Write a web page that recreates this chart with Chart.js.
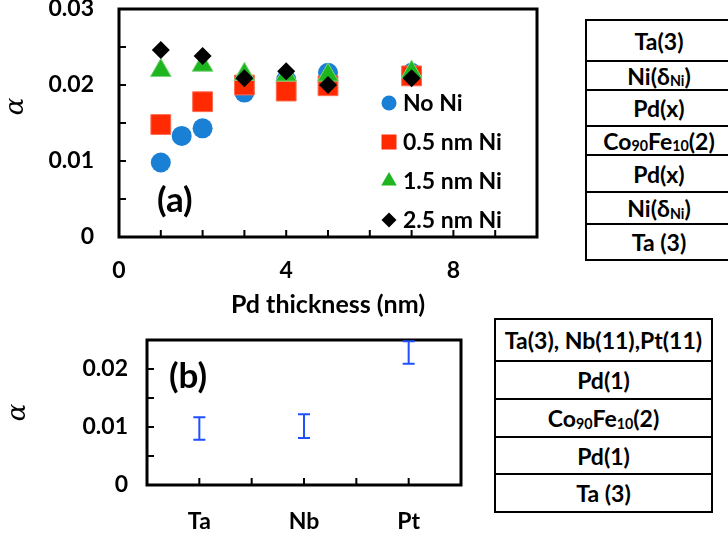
<!DOCTYPE html>
<html><head><meta charset="utf-8">
<script src="https://cdn.jsdelivr.net/npm/chart.js@4/dist/chart.umd.min.js"></script>
<style>
html,body{margin:0;padding:0;}
body{width:728px;height:537px;overflow:hidden;background:#fff;position:relative;font-family:Lato,sans-serif;color:#000;}
canvas{position:absolute;left:0;}
#ca{top:-6px;}
#cb{top:320px;}
.cell{position:absolute;box-sizing:border-box;border:2px solid #000;display:flex;align-items:center;justify-content:center;font-weight:bold;font-size:23px;white-space:nowrap;background:#fff;}
.cell sub{font-size:0.62em;vertical-align:baseline;position:relative;top:0.4em;line-height:0;}
.plabel{position:absolute;font-weight:bold;font-size:35px;line-height:1;}
</style></head><body>
<canvas id="ca" width="560" height="326"></canvas>
<canvas id="cb" width="480" height="217"></canvas>
<div class="plabel" style="left:157px;top:181px;">(a)</div>
<div class="plabel" style="left:169px;top:357px;">(b)</div>
<div id="stackA"></div>
<div id="stackB"></div>
<script>
// ---------- data: panel (a) ----------
const seriesNames = ['No Ni', '0.5 nm Ni', '1.5 nm Ni', '2.5 nm Ni'];
const xNoNi = [1, 1.5, 2, 3, 4, 5, 7];
const alphaNoNi = [0.0098, 0.0133, 0.0143, 0.0190, 0.0207, 0.0216, 0.0216];
const xNi = [1, 2, 3, 4, 5, 7];
const alphaNi05 = [0.0148, 0.0178, 0.0200, 0.0192, 0.0199, 0.0212];
const alphaNi15 = [0.0219, 0.0226, 0.0214, 0.0213, 0.0213, 0.0217];
const alphaNi25 = [0.0246, 0.0238, 0.0209, 0.0218, 0.0200, 0.0209];
const xTicksA = [0, 4, 8];
const xTickLabelsA = ['0', '4', '8'];
const yTicksA = [0, 0.01, 0.02, 0.03];
const yTickLabelsA = ['0', '0.01', '0.02', '0.03'];
// ---------- data: panel (b) ----------
const categoriesB = ['Ta', 'Nb', 'Pt'];
const alphaB = [0.00975, 0.01015, 0.02285];
const errB = [0.00195, 0.00205, 0.00195];
const yTicksB = [0, 0.01, 0.02];
const yTickLabelsB = ['0', '0.01', '0.02'];
// ---------- layer stacks ----------
const layersA = ['Ta(3)', 'Ni(&delta;<sub>Ni</sub>)', 'Pd(x)', 'Co<sub>90</sub>Fe<sub>10</sub>(2)', 'Pd(x)', 'Ni(&delta;<sub>Ni</sub>)', 'Ta (3)'];
const layersB = ['Ta(3), Nb(11),Pt(11)', 'Pd(1)', 'Co<sub>90</sub>Fe<sub>10</sub>(2)', 'Pd(1)', 'Ta (3)'];

function buildStack(id, layers, left, width, bounds) {
  const host = document.getElementById(id);
  layers.forEach((txt, i) => {
    const d = document.createElement('div');
    d.className = 'cell';
    d.style.left = left + 'px';
    d.style.width = width + 'px';
    d.style.top = (bounds[i] - 1) + 'px';
    d.style.height = (bounds[i + 1] - bounds[i] + 2) + 'px';
    d.innerHTML = txt;
    host.appendChild(d);
  });
}
buildStack('stackA', layersA, 585, 148, [20, 61, 90, 126, 155, 192, 224, 260]);
buildStack('stackB', layersB, 494, 219, [319, 361, 399, 437, 474, 512]);

Chart.defaults.font.family = 'Lato';
Chart.defaults.font.weight = 'bold';
Chart.defaults.color = '#000';

function pick(vals, labels) {
  return function (v) {
    const i = vals.findIndex(t => Math.abs(t - v) < 1e-9);
    return i >= 0 ? labels[i] : '';
  };
}
function noPad(s) { s.paddingTop = 0; s.paddingBottom = 0; s.paddingLeft = 0; s.paddingRight = 0; }

const frameTicks = {
  id: 'frameTicks',
  beforeDatasetsDraw(chart, args, opts) {
    const ctx = chart.ctx, a = chart.chartArea;
    ctx.save();
    ctx.strokeStyle = '#000';
    ctx.lineWidth = 2;
    const len = opts.len || 7;
    const xs = chart.scales.x, ys = chart.scales.y;
    let xp = [];
    if (xs.type === 'category') {
      const n = xs.ticks.length;
      for (let i = 0; i < n; i++) {
        xp.push(xs.getPixelForTick(i));
        if (i < n - 1) xp.push((xs.getPixelForTick(i) + xs.getPixelForTick(i + 1)) / 2);
      }
    } else {
      xp = xs.ticks.map(t => xs.getPixelForValue(t.value));
    }
    xp.forEach(p => {
      if (p < a.left + 2 || p > a.right - 2) return;
      ctx.beginPath(); ctx.moveTo(p, a.bottom); ctx.lineTo(p, a.bottom - len); ctx.stroke();
    });
    ys.ticks.forEach(t => {
      const p = ys.getPixelForValue(t.value);
      if (p < a.top + 2 || p > a.bottom - 2) return;
      ctx.beginPath(); ctx.moveTo(a.left, p); ctx.lineTo(a.left + len, p); ctx.stroke();
    });
    ctx.lineWidth = 3;
    ctx.strokeRect(a.left, a.top, a.right - a.left, a.bottom - a.top);
    ctx.restore();
  }
};

function drawMarker(ctx, style, x, y, r, color) {
  ctx.save();
  ctx.fillStyle = color;
  ctx.beginPath();
  if (style === 'circle') {
    ctx.arc(x, y, r, 0, Math.PI * 2);
  } else if (style === 'rect') {
    const s = r * Math.SQRT1_2;
    ctx.rect(x - s, y - s, 2 * s, 2 * s);
  } else if (style === 'triangle') {
    ctx.moveTo(x, y - r);
    ctx.lineTo(x + r * Math.sin(Math.PI * 2 / 3), y - r * Math.cos(Math.PI * 2 / 3));
    ctx.lineTo(x - r * Math.sin(Math.PI * 2 / 3), y - r * Math.cos(Math.PI * 2 / 3));
    ctx.closePath();
  } else if (style === 'rectRot') {
    ctx.moveTo(x - r, y); ctx.lineTo(x, y - r); ctx.lineTo(x + r, y); ctx.lineTo(x, y + r);
    ctx.closePath();
  }
  ctx.fill();
  ctx.restore();
}

const insideLegend = {
  id: 'insideLegend',
  afterDatasetsDraw(chart, args, opts) {
    const ctx = chart.ctx;
    const ds = chart.data.datasets.slice().sort((p, q) => p.legendIndex - q.legendIndex);
    ctx.save();
    ctx.font = 'bold ' + opts.fontSize + 'px Lato';
    ctx.textAlign = 'left';
    ctx.textBaseline = 'middle';
    ds.forEach((d, i) => {
      const y = opts.y0 + i * opts.dy;
      drawMarker(ctx, d.pointStyle, opts.x, y, opts.radii[d.pointStyle], d.backgroundColor);
      ctx.fillStyle = '#000';
      ctx.fillText(d.label, opts.textX, y + 1);
    });
    ctx.restore();
  }
};

const errorBars = {
  id: 'errorBars',
  afterDatasetsDraw(chart, args, opts) {
    const ctx = chart.ctx, ys = chart.scales.y;
    chart.data.datasets.forEach((d, di) => {
      if (!d.errors) return;
      const meta = chart.getDatasetMeta(di);
      ctx.save();
      ctx.strokeStyle = opts.color;
      ctx.lineWidth = 2;
      meta.data.forEach((pt, i) => {
        const lo = ys.getPixelForValue(d.data[i] - d.errors[i]);
        const hi = ys.getPixelForValue(d.data[i] + d.errors[i]);
        const x = pt.x, w = opts.cap / 2;
        ctx.beginPath();
        ctx.moveTo(x, lo); ctx.lineTo(x, hi);
        ctx.moveTo(x - w, lo); ctx.lineTo(x + w, lo);
        ctx.moveTo(x - w, hi); ctx.lineTo(x + w, hi);
        ctx.stroke();
      });
      ctx.restore();
    });
  }
};

const toXY = (xs, ys) => xs.map((x, i) => ({ x: x, y: ys[i] }));
const tickFont = { size: 23, weight: 'bold', family: 'Lato' };
const titleFont = { size: 25, weight: 'bold', family: 'Lato' };
const alphaTitle = { display: true, text: '\u03B1', color: '#000', font: { size: 26, family: 'DejaVu Serif', style: 'italic', weight: 'normal', lineHeight: 1 }, padding: { top: 3, bottom: 0 } };

new Chart(document.getElementById('ca'), {
  type: 'scatter',
  data: {
    datasets: [
      { label: seriesNames[0], data: toXY(xNoNi, alphaNoNi), pointStyle: 'circle', pointRadius: 10, backgroundColor: '#1a80d5', borderColor: '#1a80d5', borderWidth: 0, order: 4, legendIndex: 0 },
      { label: seriesNames[1], data: toXY(xNi, alphaNi05), pointStyle: 'rect', pointRadius: 14, backgroundColor: '#ff2a00', borderColor: '#ff6a50', borderWidth: 1, order: 3, legendIndex: 1 },
      { label: seriesNames[2], data: toXY(xNi, alphaNi15), pointStyle: 'triangle', pointRadius: 12, backgroundColor: '#1fb51f', borderColor: '#7fd67f', borderWidth: 1, order: 2, legendIndex: 2 },
      { label: seriesNames[3], data: toXY(xNi, alphaNi25), pointStyle: 'rectRot', pointRadius: 9, backgroundColor: '#000', borderColor: '#000', borderWidth: 0, order: 1, legendIndex: 3 }
    ]
  },
  options: {
    responsive: false,
    animation: false,
    events: [],
    layout: { padding: { top: 14, right: 23, left: 0, bottom: 0 } },
    plugins: {
      legend: { display: false },
      tooltip: { enabled: false },
      insideLegend: { x: 389, textX: 403, y0: 109, dy: 39, fontSize: 23, radii: { circle: 7.5, rect: 10.6, triangle: 9, rectRot: 7.5 } },
      frameTicks: { len: 7 }
    },
    scales: {
      x: {
        type: 'linear', min: 0, max: 10,
        grid: { display: false, drawTicks: false }, border: { display: false },
        ticks: { stepSize: 1, autoSkip: false, maxRotation: 0, padding: 20, font: tickFont, color: '#000', callback: pick(xTicksA, xTickLabelsA) },
        title: { display: true, text: 'Pd thickness (nm)', color: '#000', font: titleFont, padding: { top: 0, bottom: 0 } },
        afterFit: s => { s.height = 83; noPad(s); }
      },
      y: {
        type: 'linear', min: 0, max: 0.03,
        grid: { display: false, drawTicks: false }, border: { display: false },
        ticks: { stepSize: 0.005, autoSkip: false, padding: 25, font: tickFont, color: '#000', callback: pick(yTicksA, yTickLabelsA) },
        title: Object.assign({}, alphaTitle, { text: '    \u03B1' }),
        afterFit: s => { s.width = 119; noPad(s); }
      }
    }
  },
  plugins: [frameTicks, insideLegend]
});

new Chart(document.getElementById('cb'), {
  type: 'line',
  data: {
    labels: categoriesB,
    datasets: [
      { label: 'alpha', data: alphaB, errors: errB, showLine: false, pointRadius: 0, borderColor: '#1f4fff', backgroundColor: '#1f4fff' }
    ]
  },
  options: {
    responsive: false,
    animation: false,
    events: [],
    layout: { padding: { top: 20, right: 19, left: 0, bottom: 0 } },
    plugins: {
      legend: { display: false },
      tooltip: { enabled: false },
      frameTicks: { len: 7 },
      errorBars: { color: '#1f4fff', cap: 12 }
    },
    scales: {
      x: {
        type: 'category', offset: true,
        grid: { display: false, drawTicks: false }, border: { display: false },
        ticks: { autoSkip: false, maxRotation: 0, padding: 23, font: tickFont, color: '#000' },
        afterFit: s => { s.height = 52; noPad(s); }
      },
      y: {
        type: 'linear', min: 0, max: 0.025,
        grid: { display: false, drawTicks: false }, border: { display: false },
        ticks: { stepSize: 0.005, autoSkip: false, padding: 19, font: tickFont, color: '#000', callback: pick(yTicksB, yTickLabelsB) },
        title: Object.assign({}, alphaTitle, { padding: { top: 5, bottom: 0 } }),
        afterFit: s => { s.width = 147; noPad(s); }
      }
    }
  },
  plugins: [frameTicks, errorBars]
});
</script>
</body></html>
